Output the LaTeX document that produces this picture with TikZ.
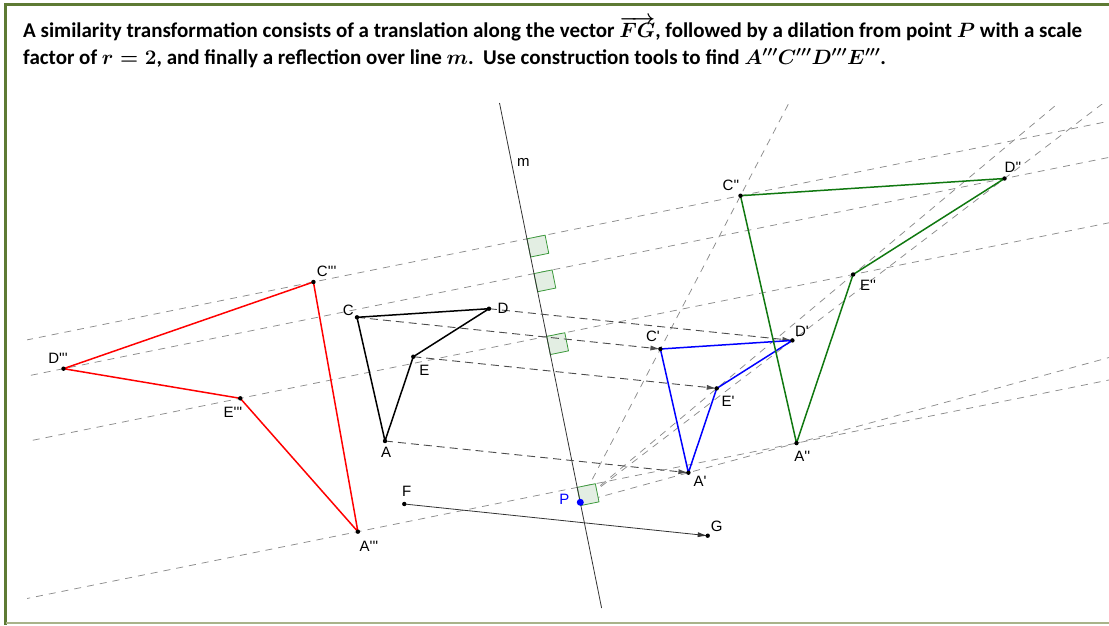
\documentclass[tikz,border=0pt]{standalone}
\usepackage{fontspec}
\setmainfont{Carlito}
\newfontfamily\lab{Liberation Sans}[Ligatures=TeXOff]
\usetikzlibrary{calc,arrows.meta}
\definecolor{frameolive}{HTML}{5E7A34}
\definecolor{framelight}{HTML}{A9B38A}
\definecolor{dgreen}{HTML}{107810}
\definecolor{sqgreen}{HTML}{3C9A3C}
\definecolor{sqfill}{HTML}{E3EEE3}
\begin{document}
\begin{tikzpicture}[x=1pt,y=-1pt,
  dot/.style={circle,fill=black,inner sep=0pt,minimum size=4.4pt},
  lbl/.style={font=\lab\fontsize{15}{17}\selectfont,inner sep=0pt},
  cons/.style={draw=black!45,line width=0.75pt,dash pattern=on 7pt off 6pt},
  trans/.style={draw=black!70,line width=0.9pt,dash pattern=on 8pt off 5pt,-{Latex[length=10pt,width=5pt]}},
  thinline/.style={draw=black!80,line width=0.8pt},
  sq/.style={draw=sqgreen,fill=sqfill,line width=0.8pt},
  titletext/.style={font=\bfseries\boldmath\fontsize{21}{25}\selectfont,inner sep=0pt,anchor=base west}]
\useasboundingbox (0,0) rectangle (1109,625);
% frame
\draw[frameolive,line width=3.2pt] (5.6,625) -- (5.6,4.2) -- (1109,4.2);
\draw[framelight,line width=2pt] (5.6,623) -- (1109,623);
% title
\node[titletext] (t1) at (23,37.3) {A similarity transformation consists of a translation along the vector $\overrightarrow{FG}$, followed by a dilation from point $P$ with a scale};
\node[titletext] (t2) at (23,64.3) {factor of $r=2$, and finally a reflection over line $m$.\ \ Use construction tools to find $A'''C'''D'''E'''$.};
% given points
\coordinate (A) at (385,441);
\coordinate (C) at (357,317.3);
\coordinate (D) at (489,308.7);
\coordinate (E) at (413.3,356.7);
\coordinate (F) at (404.3,504);
\coordinate (G) at (707.7,535.7);
\coordinate (P) at (580.3,502.3);
\coordinate (mTop) at (499.5,103);
\coordinate (mBot) at (601.6,608);
% transformations
\foreach \X in {A,C,D,E} {
  \coordinate (\X p) at ($(\X)+(G)-(F)$);
  \coordinate (\X pp) at ($(P)!2!(\X p)$);
  \coordinate (H\X) at ($(mTop)!(\X pp)!(mBot)$);
  \coordinate (\X ppp) at ($(\X pp)!2!(H\X)$);
  \coordinate (H\X a) at ($(H\X)!18.5pt!(\X pp)$);
  \coordinate (H\X b) at ($(H\X)!18.5pt!(mBot)$);
  \coordinate (H\X c) at ($(H\X a)+(H\X b)-(H\X)$);
}
% construction lines
\begin{scope}
\clip (27,104) rectangle (1109,621);
\foreach \X in {A,C,D,E} {
  \draw[cons] ($(\X ppp)!-3!(\X pp)$) -- ($(\X pp)!-3!(\X ppp)$);
  \draw[cons] (P) -- ($(P)!4!(\X pp)$);
}
\end{scope}
% right angle marks
\foreach \X in {A,C,D,E} {
  \draw[sq] (H\X) -- (H\X a) -- (H\X c) -- (H\X b) -- cycle;
}
% line m and vector FG
\draw[thinline] (mTop) -- (mBot);
\draw[thinline,-{Latex[length=10pt,width=5pt]}] (F) -- (G);
% translation arrows
\foreach \X in {A,C,D,E} {
  \draw[trans] (\X) -- (\X p);
}
% figures
\draw[black,line width=1.5pt,line join=round] (C) -- (D) -- (E) -- (A) -- cycle;
\draw[blue,line width=1.5pt,line join=round] (Cp) -- (Dp) -- (Ep) -- (Ap) -- cycle;
\draw[dgreen,line width=1.5pt,line join=round] (Cpp) -- (Dpp) -- (Epp) -- (App) -- cycle;
\draw[red,line width=1.5pt,line join=round] (Cppp) -- (Dppp) -- (Eppp) -- (Appp) -- cycle;
% dots
\foreach \X in {A,C,D,E,F,G,Ap,Cp,Dp,Ep,App,Cpp,Dpp,Epp,Appp,Cppp,Dppp,Eppp} {
  \node[dot] (n\X) at (\X) {};
}
\node[circle,fill=blue,inner sep=0pt,minimum size=7pt] (nP) at (P) {};
% labels
\node[lbl] (lA) at (386,452.7) {A};
\node[lbl] (lC) at (348.3,310) {C};
\node[lbl] (lD) at (503,308.3) {D};
\node[lbl] (lE) at (424.3,370) {E};
\node[lbl] (lF) at (406.7,491.7) {F};
\node[lbl] (lG) at (716.7,526.7) {G};
\node[lbl,text=blue] (lP) at (564.3,499.3) {P};
\node[lbl] (lm) at (523.3,162.7) {m};
\node[lbl] (lAp) at (700,481.7) {A'};
\node[lbl] (lCp) at (653,336.7) {C'};
\node[lbl] (lDp) at (802,331.7) {D'};
\node[lbl] (lEp) at (728,401.7) {E'};
\node[lbl] (lApp) at (802.3,456.7) {A''};
\node[lbl] (lCpp) at (731,185) {C''};
\node[lbl] (lDpp) at (1013,167.7) {D''};
\node[lbl] (lEpp) at (868,285) {E''};
\node[lbl] (lAppp) at (369,546.8) {A'''};
\node[lbl] (lCppp) at (326.7,271.7) {C'''};
\node[lbl] (lDppp) at (58,358) {D'''};
\node[lbl] (lEppp) at (233,412.7) {E'''};
\end{tikzpicture}
\end{document}
